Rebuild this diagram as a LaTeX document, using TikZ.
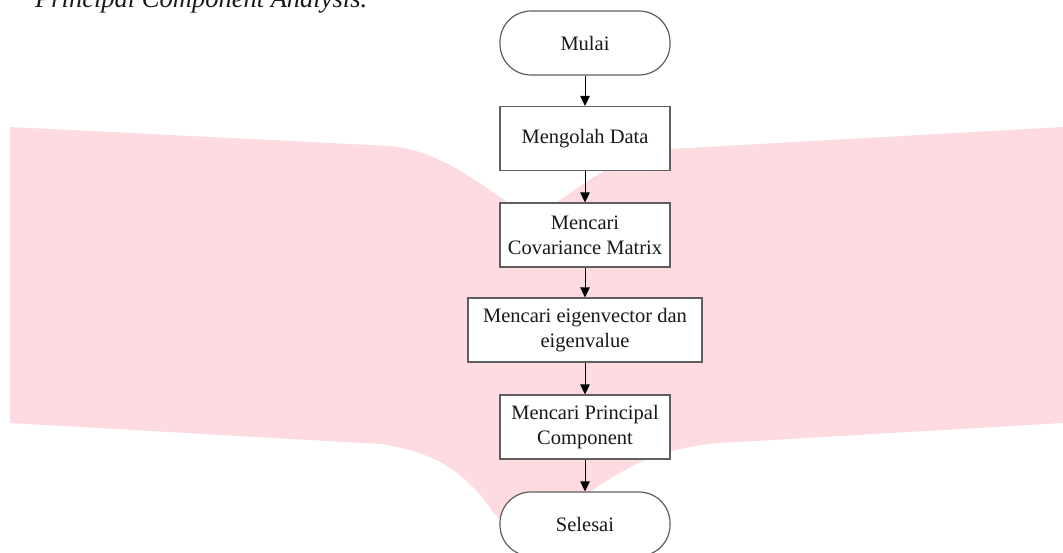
\documentclass[tikz,border=0pt]{standalone}
\usepackage{fontspec}
\setmainfont{Liberation Serif}
\usetikzlibrary{arrows.meta}
\definecolor{wmpink}{RGB}{253,219,224}
\definecolor{boxline}{RGB}{95,95,95}
\definecolor{txt}{RGB}{25,25,25}
\tikzset{
  termbox/.style={draw=boxline, line width=1.2pt, fill=white, rounded corners=31pt,
    minimum width=170pt, minimum height=64pt, inner sep=0pt, align=center,
    text=txt, font=\fontsize{20.5}{25}\selectfont},
  procbox/.style={draw=boxline, line width=1.2pt, fill=white,
    minimum height=64pt, inner sep=0pt, align=center,
    text=txt, font=\fontsize{20.5}{25}\selectfont},
  flow/.style={draw=black, line width=1pt, -{Triangle[length=10pt,width=9.5pt]}}
}
\begin{document}
\begin{tikzpicture}[x=1pt,y=-1pt]
\useasboundingbox (0,0) rectangle (1063,552);
\clip (0,0) rectangle (1063,552);
% watermark
\fill[wmpink] (10,127) -- (390,146) .. controls (430,150) and (462,170) .. (507,202)
  -- (534,219) -- (560,200) .. controls (600,172) and (630,152) .. (670,149)
  -- (1063,127) -- (1063,423) -- (720,443) .. controls (660,448) and (630,465) .. (593,490)
  -- (510,530) -- (493,512) .. controls (470,478) and (440,452) .. (380,444)
  -- (10,423) -- cycle;
% cut-off caption
\node[anchor=base west, inner sep=0pt, text=txt, font=\fontsize{26.5}{30}\selectfont\itshape] (cap) at (35,7.5) {Principal Component Analysis.};
% nodes
\node[termbox] (mulai) at (585,43) {Mulai};
\node[procbox, minimum width=170pt] (olah) at (585,138.5) {Mengolah Data};
\node[procbox, minimum width=170pt] (cov) at (585,235) {Mencari\\Covariance Matrix};
\node[procbox, minimum width=234pt] (eig) at (585,330) {Mencari eigenvector dan\\eigenvalue};
\node[procbox, minimum width=170pt] (pc) at (585,427) {Mencari Principal\\Component};
\node[termbox] (selesai) at (585,524) {Selesai};
% connectors
\draw[flow] (mulai) -- (olah);
\draw[flow] (olah) -- (cov);
\draw[flow] (cov) -- (eig);
\draw[flow] (eig) -- (pc);
\draw[flow] (pc) -- (selesai);
\end{tikzpicture}
\end{document}
